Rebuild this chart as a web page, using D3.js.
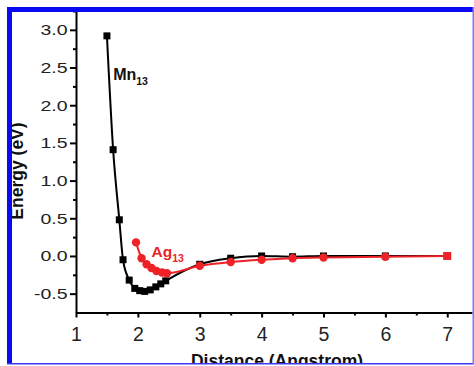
<!DOCTYPE html>
<html>
<head>
<meta charset="utf-8">
<script src="https://cdn.jsdelivr.net/npm/d3@7"></script>
<style>
  html, body { margin: 0; padding: 0; background: #fff; }
  svg { display: block; font-family: "Liberation Sans", Arial, sans-serif; }
</style>
</head>
<body>
<div id="chart"></div>
<script>
// Mn13 curve (black squares)
const mnDist   = [1.5, 1.6, 1.7, 1.76, 1.86, 1.95, 2.03, 2.11, 2.2, 2.29, 2.37, 2.45, 3.0, 3.5, 4.0, 4.5, 5.0, 6.0, 7.0];
const mnEnergy = [2.92, 1.41, 0.48, -0.05, -0.32, -0.43, -0.46, -0.47, -0.45, -0.41, -0.37, -0.33, -0.11, -0.03, 0.0, -0.01, 0.0, 0.0, 0.0];

// Ag13 curve (red circles)
const agDist   = [1.97, 2.06, 2.14, 2.22, 2.3, 2.39, 2.47, 3.0, 3.5, 4.0, 4.5, 5.0, 6.0, 7.0];
const agEnergy = [0.18, -0.03, -0.11, -0.16, -0.2, -0.22, -0.23, -0.13, -0.08, -0.05, -0.03, -0.02, -0.01, 0.0];

const xTicks = [1, 2, 3, 4, 5, 6, 7];
const xMinor = [1.5, 2.5, 3.5, 4.5, 5.5, 6.5];
const yTicks = [-0.5, 0, 0.5, 1, 1.5, 2, 2.5, 3];
const yMinor = [-0.25, 0.25, 0.75, 1.25, 1.75, 2.25, 2.75, 3.25];

const width = 474;
const height = 366;

const svg = d3.select("#chart").append("svg")
  .attr("width", width)
  .attr("height", height);

svg.append("rect").attr("width", width).attr("height", height).attr("fill", "#fff");

const x = d3.scaleLinear().domain([1, 7.4]).range([76, 472]);
const y = d3.scaleLinear().domain([-0.75, 3.25]).range([312.5, 11]);

// minor ticks
svg.append("g")
  .attr("transform", `translate(0,${y.range()[0]})`)
  .call(d3.axisBottom(x).tickValues(xMinor).tickSize(3).tickSizeOuter(0).tickFormat(""))
  .call(g => g.select(".domain").remove())
  .selectAll("line").attr("stroke-width", 2);

svg.append("g")
  .attr("transform", `translate(${x.range()[0]},0)`)
  .call(d3.axisLeft(y).tickValues(yMinor).tickSize(3).tickSizeOuter(0).tickFormat(""))
  .call(g => g.select(".domain").remove())
  .selectAll("line").attr("stroke-width", 2);

// x axis
const xAxis = svg.append("g")
  .attr("transform", `translate(0,${y.range()[0]})`)
  .call(d3.axisBottom(x).tickValues(xTicks).tickSize(5).tickSizeOuter(0).tickPadding(10).tickFormat(d => d));
xAxis.select(".domain").attr("stroke-width", 2);
xAxis.selectAll("line").attr("stroke-width", 2);
xAxis.selectAll("text")
  .attr("font-size", 19.5)
  .attr("font-family", "Liberation Sans, Arial, sans-serif")
  .attr("fill", "#222");

// y axis
const yAxis = svg.append("g")
  .attr("transform", `translate(${x.range()[0]},0)`)
  .call(d3.axisLeft(y).tickValues(yTicks).tickSize(6).tickSizeOuter(0).tickFormat(d => d.toFixed(1)));
yAxis.select(".domain").attr("stroke-width", 2);
yAxis.selectAll("line").attr("stroke-width", 2);
yAxis.selectAll("text")
  .attr("font-size", 15)
  .attr("font-family", "Liberation Sans, Arial, sans-serif")
  .attr("fill", "#222")
  .attr("x", -8.5 / 1.3)
  .attr("transform", "scale(1.3,1)");

// curves
const mn = mnDist.map((d, i) => ({ d, e: mnEnergy[i] }));
const ag = agDist.map((d, i) => ({ d, e: agEnergy[i] }));

const line = d3.line()
  .x(p => x(p.d))
  .y(p => y(p.e))
  .curve(d3.curveMonotoneX);

svg.append("path")
  .datum(mn)
  .attr("d", line)
  .attr("fill", "none")
  .attr("stroke", "#000")
  .attr("stroke-width", 2);

svg.selectAll(".mn")
  .data(mn)
  .join("rect")
  .attr("class", "mn")
  .attr("x", p => x(p.d) - 3.5)
  .attr("y", p => y(p.e) - 3.5)
  .attr("width", 7)
  .attr("height", 7)
  .attr("fill", "#000");

const red = "#ec2227";

svg.append("path")
  .datum(ag)
  .attr("d", line)
  .attr("fill", "none")
  .attr("stroke", red)
  .attr("stroke-width", 2);

svg.selectAll(".ag")
  .data(ag.slice(0, -1))
  .join("circle")
  .attr("class", "ag")
  .attr("cx", p => x(p.d))
  .attr("cy", p => y(p.e))
  .attr("r", 4.2)
  .attr("fill", red);

svg.selectAll(".agEnd")
  .data(ag.slice(-1))
  .join("rect")
  .attr("class", "agEnd")
  .attr("x", p => x(p.d) - 4)
  .attr("y", p => y(p.e) - 4)
  .attr("width", 8)
  .attr("height", 8)
  .attr("fill", red);

// series labels
const mnLabel = svg.append("text")
  .attr("x", x(1.6))
  .attr("y", y(2.34))
  .attr("font-size", 16)
  .attr("font-weight", "bold")
  .attr("fill", "#111");
mnLabel.append("tspan").text("Mn");
mnLabel.append("tspan").attr("font-size", 10.5).attr("dy", 5).text("13");

const agLabel = svg.append("text")
  .attr("x", x(2.22))
  .attr("y", y(-0.01))
  .attr("font-size", 15.5)
  .attr("font-weight", "bold")
  .attr("fill", red);
agLabel.append("tspan").text("Ag");
agLabel.append("tspan").attr("font-size", 10.5).attr("dy", 5).text("13");

// axis titles
svg.append("text")
  .attr("transform", "translate(23,171) rotate(-90)")
  .attr("text-anchor", "middle")
  .attr("font-size", 17.5)
  .attr("font-weight", "bold")
  .attr("fill", "#111")
  .text("Energy (eV)");

svg.append("text")
  .attr("x", 277)
  .attr("y", 366.5)
  .attr("text-anchor", "middle")
  .attr("font-size", 17.5)
  .attr("font-weight", "bold")
  .attr("fill", "#111")
  .text("Distance (Angstrom)");

// frame
svg.append("rect").attr("x", 0).attr("y", 364).attr("width", width).attr("height", 2).attr("fill", "#fff");
svg.append("rect").attr("x", 0).attr("y", 0).attr("width", 7).attr("height", height).attr("fill", "#fff");
svg.append("rect").attr("x", 0).attr("y", 0).attr("width", width).attr("height", 7).attr("fill", "#fff");
svg.append("rect").attr("x", 7).attr("y", 7).attr("width", 5).attr("height", 357).attr("fill", "#0a0af2");
svg.append("rect").attr("x", 7).attr("y", 7).attr("width", 467).attr("height", 5).attr("fill", "#0a0af2");
svg.append("rect").attr("x", 7).attr("y", 363).attr("width", 467).attr("height", 1.5).attr("fill", "#3a3af2");
svg.append("rect").attr("x", 472.5).attr("y", 7).attr("width", 1.5).attr("height", 357).attr("fill", "#7a7af5");
</script>
</body>
</html>
